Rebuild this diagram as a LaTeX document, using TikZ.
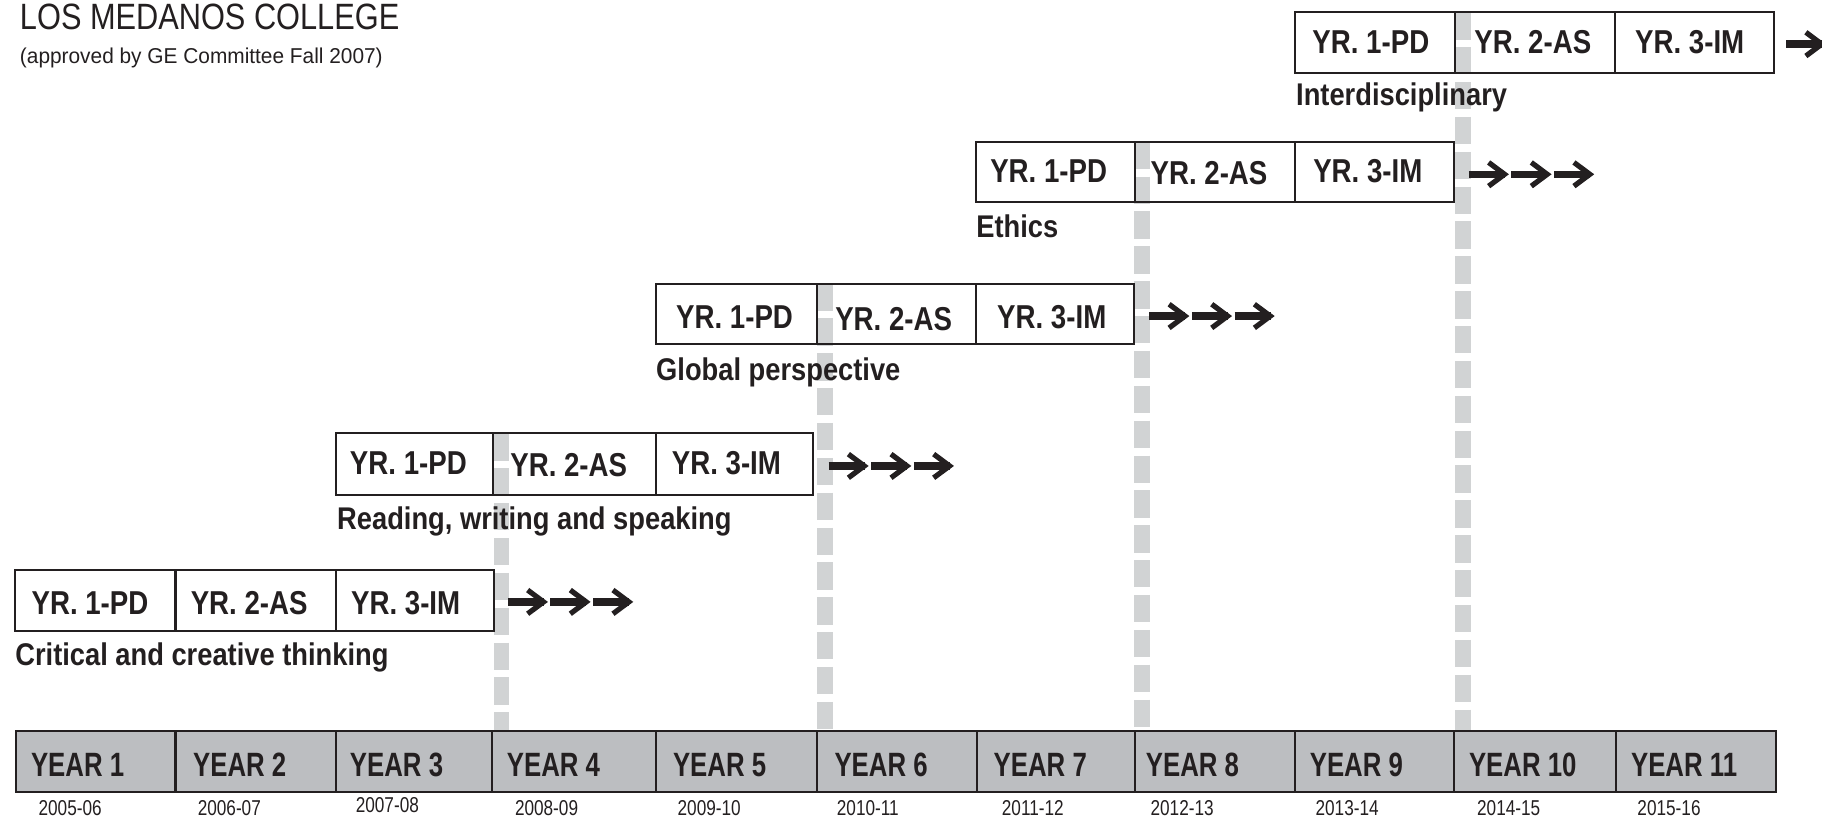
\documentclass[tikz,border=0pt]{standalone}
\usepackage{fontspec}
\setmainfont{Liberation Sans}
\newfontfamily\titlef[FakeStretch=0.84]{Liberation Sans}
\newfontfamily\subf[FakeStretch=0.97]{Liberation Sans}
\newfontfamily\cellf[FakeStretch=0.835]{Liberation Sans}
\newfontfamily\yearf[FakeStretch=0.765]{Liberation Sans}
\newfontfamily\labf[FakeStretch=0.87]{Liberation Sans}
\newfontfamily\datef[FakeStretch=0.80]{Liberation Sans}
\definecolor{ink}{HTML}{231F20}
\definecolor{barfill}{HTML}{BCBEC1}
\definecolor{dashgray}{HTML}{D1D3D4}
\tikzset{
  gdash/.style={line width=13.5pt, dashgray, dash pattern=on 23.5pt off 6.5pt},
  boxline/.style={line width=1.8pt, ink},
  celltxt/.style={anchor=base west, inner sep=0pt, text=ink, font=\cellf\bfseries\fontsize{28.5}{30}\selectfont},
  yeartxt/.style={anchor=base west, inner sep=0pt, text=ink, font=\yearf\bfseries\fontsize{29}{30}\selectfont},
  labtxt/.style={anchor=base west, inner sep=0pt, text=ink, font=\labf\bfseries\fontsize{27}{29}\selectfont},
  datetxt/.style={anchor=base west, inner sep=0pt, text=ink, font=\datef\fontsize{18.5}{20}\selectfont},
  arrw/.pic={
    \draw[ink, line width=6.5pt] (0,0) -- (31,0);
    \draw[ink, line width=4.5pt, line join=miter, miter limit=10] (17.1,-10.2) -- (30.8,0) -- (17.1,10.2);
  }
}
\begin{document}
\begin{tikzpicture}[x=1pt, y=-1pt]
\useasboundingbox (0,0) rectangle (1568,703);
% gray dashed year markers
\foreach \x/\t in {431.5/373, 709.8/244, 983/122, 1259/10.6}
  \draw[gdash] (\x,\t) -- (\x,629);
% row boxes
\foreach \L/\A/\B/\R/\T/\Bo in {13/151/289/425/490.5/543,
    289/424.5/564.5/700/373/426,
    564.5/703/840/976/244.4/296,
    840/977/1114.5/1251/122/174,
    1114.5/1252/1390/1527/10.6/62.5}{
  \draw[boxline] (\L,\T) rectangle (\R,\Bo);
  \draw[boxline] (\A,\T) -- (\A,\Bo) (\B,\T) -- (\B,\Bo);
}
% row 1
\node[celltxt] (r1a) at (27,529) {YR. 1-PD};
\node[celltxt] (r1b) at (164,529) {YR. 2-AS};
\node[celltxt] (r1c) at (302,529) {YR. 3-IM};
\node[labtxt] (lab1) at (13,573) {Critical and creative thinking};
% row 2
\node[celltxt] (r2a) at (301,408.5) {YR. 1-PD};
\node[celltxt] (r2b) at (439,410.5) {YR. 2-AS};
\node[celltxt] (r2c) at (578,408.5) {YR. 3-IM};
\node[labtxt] (lab2) at (290,455.5) {Reading, writing and speaking};
% row 3
\node[celltxt] (r3a) at (581.7,282.5) {YR. 1-PD};
\node[celltxt] (r3b) at (718.6,284) {YR. 2-AS};
\node[celltxt] (r3c) at (858,282.5) {YR. 3-IM};
\node[labtxt] (lab3) at (564.5,327.6) {Global perspective};
% row 4
\node[celltxt] (r4a) at (852,157) {YR. 1-PD};
\node[celltxt] (r4b) at (990,159.2) {YR. 2-AS};
\node[celltxt] (r4c) at (1130,157) {YR. 3-IM};
\node[labtxt] (lab4) at (840,204.5) {Ethics};
% row 5
\node[celltxt] (r5a) at (1129.3,46.2) {YR. 1-PD};
\node[celltxt] (r5b) at (1268.7,46.2) {YR. 2-AS};
\node[celltxt] (r5c) at (1407,46.2) {YR. 3-IM};
\node[labtxt] (lab5) at (1115.3,91) {Interdisciplinary};
% arrows
\foreach \x/\y in {437/518, 713/401, 989/272, 1264/150, 1537/38}
  \foreach \i in {0,1,2}
    \pic at ({\x+36.7*\i},\y) {arrw};
% year bar
\draw[boxline, fill=barfill] (14,629) rectangle (1528.5,681.3);
\foreach \x in {151, 289, 423.6, 564.5, 703, 840.5, 976.5, 1114.5, 1251.5, 1390.5}
  \draw[boxline] (\x,629) -- (\x,681.3);
\foreach \n/\x in {1/26.5, 2/166, 3/301, 4/436, 5/579, 6/718, 7/855, 8/986, 9/1127, 10/1264, 11/1403.5}
  \node[yeartxt] (y\n) at (\x,668.6) {YEAR \n};
\foreach \n/\x/\yy/\t in {1/33/702/2005-06, 2/170/702/2006-07, 3/306/699.5/2007-08, 4/443/702/2008-09,
    5/583/702/2009-10, 6/720/702/2010-11, 7/862/702/2011-12, 8/990/702/2012-13,
    9/1132/702/2013-14, 10/1271/702/2014-15, 11/1409/702/2015-16}
  \node[datetxt] (d\n) at (\x,\yy) {\t};
% title
\node[anchor=base west, inner sep=0pt, text=ink, font=\titlef\fontsize{31.5}{34}\selectfont] (title) at (17,25.5) {LOS MEDANOS COLLEGE};
\node[anchor=base west, inner sep=0pt, text=ink, font=\subf\fontsize{18.5}{20}\selectfont] (subtitle) at (17,54.5) {(approved by GE Committee Fall 2007)};
\end{tikzpicture}
\end{document}
